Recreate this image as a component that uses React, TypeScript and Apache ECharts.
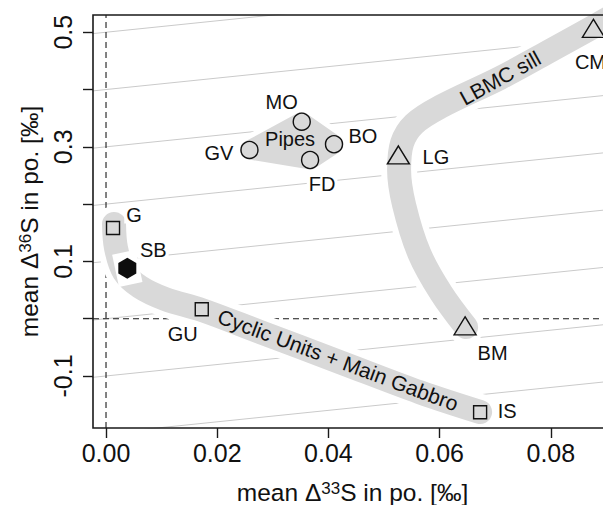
import React, { useEffect, useRef } from "react";
import * as echarts from "echarts";

// ---------- axes ----------
const X_MIN = -0.00234;
const X_MAX = 0.091;
const Y_MIN = -0.1908;
const Y_MAX = 0.5301;
const xTicks = [0, 0.02, 0.04, 0.06, 0.08];
const yTicks = [-0.1, 0, 0.1, 0.2, 0.3, 0.4, 0.5];
const yTickLabels = [-0.1, 0.1, 0.3, 0.5];

// ---------- samples ----------
const squareNames = ["G", "GU", "IS"];
const squareX = [0.00126, 0.01722, 0.06728];
const squareY = [0.1583, 0.0164, -0.1634];

const circleNames = ["GV", "MO", "BO", "FD"];
const circleX = [0.0258, 0.0352, 0.041, 0.0367];
const circleY = [0.2945, 0.3439, 0.3045, 0.277];

const triangleNames = ["BM", "LG", "CM"];
const triangleX = [0.06458, 0.05258, 0.08766];
const triangleY = [-0.0124, 0.2858, 0.5069];

const hexNames = ["SB"];
const hexX = [0.00383];
const hexY = [0.088];

// ---------- grey trend bands (centre lines) ----------
const cyclicBandX = [0.00144, 0.0018, 0.00324, 0.00612, 0.01061, 0.01722, 0.0277, 0.0421, 0.0565, 0.06728];
const cyclicBandY = [0.1653, 0.1232, 0.0815, 0.0553, 0.0344, 0.0152, -0.0232, -0.0759, -0.1286, -0.1629];
const lbmcBandX = [0.06476, 0.06027, 0.05631, 0.05361, 0.05271, 0.05325, 0.05541, 0.06009, 0.07088, 0.0793, 0.08761, 0.09516];
const lbmcBandY = [-0.0146, 0.0448, 0.1147, 0.1985, 0.2596, 0.3067, 0.3399, 0.3696, 0.4202, 0.4646, 0.5092, 0.5511];

// ---------- group labels ----------
const groupLabelText = ["Cyclic Units + Main Gabbro", "LBMC sill", "Pipes"];
const groupLabelX = [0.04174, 0.07088, 0.0331];
const groupLabelY = [-0.0721, 0.4202, 0.3128];

// ---------- background reference lines (slope 1) ----------
const refSlope = 1;
const refIntercepts = [-0.2, -0.1, 0, 0.1, 0.2, 0.3, 0.4, 0.5];

// ---------- styling (not data) ----------
const FONT = "'Liberation Sans', Arial, Helvetica, sans-serif";
const INK = "#111111";
const BAND = "#d9d9d9";
const squareLabelOffsets = [[21, -13], [-19, 25], [27, -1]];
const circleLabelOffsets = [[-30.5, 3], [-20, -20], [29, -8.5], [12, 24]];
const triangleLabelOffsets = [[27.5, 27], [37.5, 2], [-3, 33.5]];
const hexLabelOffsets = [[26, -18]];
const groupLabelRotate = [-20.5, 29, 0];
const groupLabelSize = [21, 21, 20];

function pts(names: string[], xs: number[], ys: number[], offs: number[][]) {
  return names.map((n, i) => ({ name: n, value: [xs[i], ys[i]], label: { offset: offs[i] } }));
}

const pointLabel = {
  show: true,
  formatter: "{b}",
  position: "inside",
  fontSize: 20,
  lineHeight: 17,
  color: INK,
  opacity: 1,
  fontFamily: FONT,
  backgroundColor: "#ffffff",
  padding: [0, 2],
};

const supRich = { sup: { fontSize: 17, lineHeight: 12, verticalAlign: "top", color: INK, fontFamily: FONT } };

export default function App() {
  const ref = useRef<HTMLDivElement>(null);
  useEffect(() => {
    document.body.style.margin = "0";
    const chart = echarts.init(ref.current!, null, { renderer: "svg" });

    const refLineSeries = refIntercepts.map((c) => ({
      type: "line",
      z: 1,
      silent: true,
      showSymbol: false,
      clip: true,
      data: [
        [X_MIN - 0.01, c + refSlope * (X_MIN - 0.01)],
        [X_MAX + 0.01, c + refSlope * (X_MAX + 0.01)],
      ],
      lineStyle: { color: "#cacaca", width: 1 },
    }));

    const band = (xs: number[], ys: number[], width: number, color: string, z: number) => ({
      type: "line",
      z,
      silent: true,
      showSymbol: false,
      smooth: 0.35,
      clip: true,
      data: xs.map((x, i) => [x, ys[i]]),
      lineStyle: { color, width, cap: "round", join: "round", opacity: 1 },
    });

    const pipes = (width: number, color: string, z: number) => ({
      type: "custom",
      z,
      silent: true,
      data: [[circleX[0], circleY[0]]],
      renderItem: (params: any, api: any) => {
        const p = circleX.map((x, i) => api.coord([x, circleY[i]]));
        return {
          type: "polygon",
          shape: { points: p },
          style: { fill: color, stroke: color, lineWidth: width, lineJoin: "round" },
        };
      },
    });

    const openStyle = { color: "rgba(0,0,0,0)", borderColor: INK, borderWidth: 1.4, opacity: 1 };

    const option: any = {
      animation: false,
      textStyle: { fontFamily: FONT },
      grid: {
        left: 93,
        top: 15,
        right: -9,
        bottom: 77,
        show: true,
        z: 10,
        borderColor: "#1a1a1a",
        borderWidth: 1.6,
        backgroundColor: "transparent",
        containLabel: false,
        outerBoundsMode: "none",
      },
      xAxis: {
        type: "value",
        min: X_MIN,
        max: X_MAX,
        z: 10,
        splitLine: { show: false },
        axisLine: { show: false, onZero: false },
        axisTick: {
          show: true,
          customValues: xTicks,
          length: 10,
          lineStyle: { color: "#1a1a1a", width: 1.4 },
        },
        axisLabel: {
          customValues: xTicks,
          formatter: (v: number) => v.toFixed(2),
          fontSize: 25,
          color: INK,
          fontFamily: FONT,
          margin: 12,
        },
        name: "mean Δ{sup|33}S in po. [‰]",
        nameLocation: "middle",
        nameGap: 52,
        nameTextStyle: { fontSize: 24.5, color: INK, fontFamily: FONT, rich: supRich },
      },
      yAxis: {
        type: "value",
        min: Y_MIN,
        max: Y_MAX,
        z: 10,
        splitLine: { show: false },
        axisLine: { show: false, onZero: false },
        axisTick: {
          show: true,
          customValues: yTicks,
          length: 10,
          lineStyle: { color: "#1a1a1a", width: 1.4 },
        },
        axisLabel: {
          customValues: yTickLabels,
          formatter: (v: number) => v.toFixed(1),
          rotate: 90,
          fontSize: 25,
          color: INK,
          fontFamily: FONT,
          margin: 18,
        },
        name: "mean Δ{sup|36}S in po. [‰]",
        nameLocation: "middle",
        nameGap: 47,
        nameTextStyle: { fontSize: 24.5, color: INK, fontFamily: FONT, rich: supRich },
      },
      series: [
        ...refLineSeries,
        {
          type: "line",
          z: 1,
          silent: true,
          showSymbol: false,
          data: [[0, Y_MIN], [0, Y_MAX]],
          lineStyle: { color: "#1a1a1a", width: 1.1, type: [6, 4] },
        },
        {
          type: "line",
          z: 1,
          silent: true,
          showSymbol: false,
          data: [[X_MIN, 0], [X_MAX, 0]],
          lineStyle: { color: "#1a1a1a", width: 1.1, type: [6, 4] },
        },
        band(cyclicBandX, cyclicBandY, 36, "#ffffff", 2),
        band(lbmcBandX, lbmcBandY, 36, "#ffffff", 2),
        pipes(29, "#ffffff", 2),
        band(cyclicBandX, cyclicBandY, 24, BAND, 3),
        band(lbmcBandX, lbmcBandY, 24, BAND, 3),
        pipes(19, BAND, 3),
        {
          type: "scatter",
          z: 4,
          silent: true,
          data: hexX.map((x, i) => [x, hexY[i]]),
          symbol: "rect",
          symbolSize: [24, 33],
          symbolRotate: 12,
          itemStyle: { color: "#ffffff", opacity: 1 },
        },
        {
          type: "scatter",
          z: 5,
          data: pts(squareNames, squareX, squareY, squareLabelOffsets),
          symbol: "rect",
          symbolSize: 13,
          itemStyle: openStyle,
          label: pointLabel,
        },
        {
          type: "scatter",
          z: 5,
          data: pts(circleNames, circleX, circleY, circleLabelOffsets),
          symbol: "circle",
          symbolSize: 17,
          itemStyle: openStyle,
          label: pointLabel,
        },
        {
          type: "scatter",
          z: 5,
          data: pts(triangleNames, triangleX, triangleY, triangleLabelOffsets),
          symbol: "triangle",
          symbolSize: [22, 18],
          itemStyle: openStyle,
          label: pointLabel,
        },
        {
          type: "scatter",
          z: 5,
          data: pts(hexNames, hexX, hexY, hexLabelOffsets),
          symbol: "path://M0,-1L0.866,-0.5L0.866,0.5L0,1L-0.866,0.5L-0.866,-0.5Z",
          symbolSize: [18, 21],
          itemStyle: { color: "#0d0d0d", opacity: 1 },
          label: pointLabel,
        },
        {
          type: "scatter",
          z: 6,
          silent: true,
          symbolSize: 1,
          itemStyle: { color: "rgba(0,0,0,0)", opacity: 1 },
          data: groupLabelText.map((t, i) => ({
            name: t,
            value: [groupLabelX[i], groupLabelY[i]],
            label: { rotate: groupLabelRotate[i], fontSize: groupLabelSize[i] },
          })),
          label: {
            show: true,
            formatter: "{b}",
            position: "inside",
            color: INK,
            opacity: 1,
            fontFamily: FONT,
          },
        },
      ],
    };
    chart.setOption(option);
    return () => chart.dispose();
  }, []);
  return <div ref={ref} style={{ width: 603, height: 505 }} />;
}
